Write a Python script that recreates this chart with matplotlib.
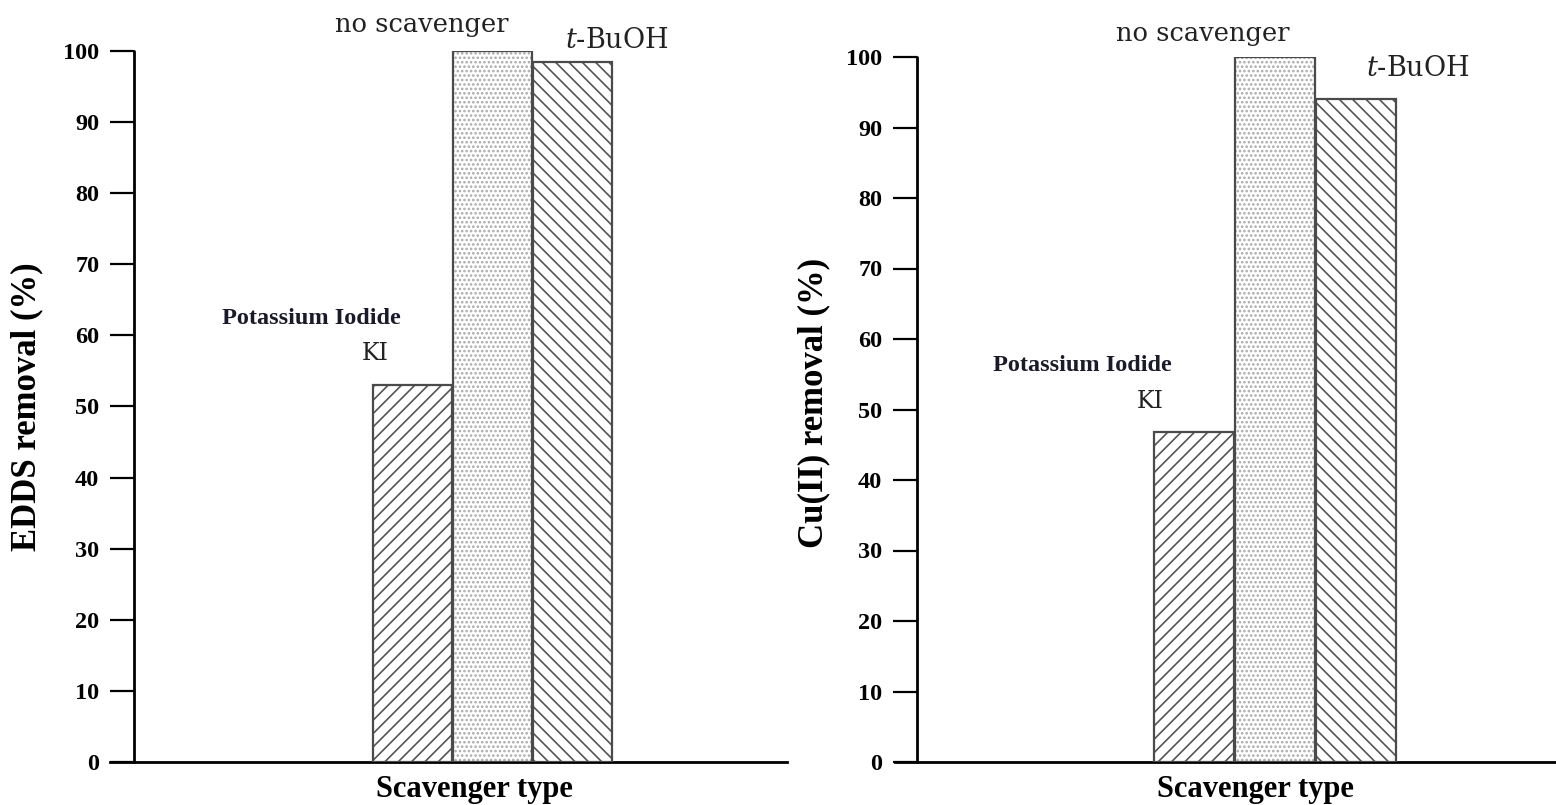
import matplotlib
matplotlib.use("Agg")
import matplotlib.pyplot as plt

# The figure is rendered at 80 dpi so that the hatch patterns come out
# at the fine pitch used in the figure; point sizes are scaled to match.
DPI = 80
S = 100.0 / DPI

plt.rcParams["font.family"] = ["Liberation Serif", "DejaVu Serif"]
plt.rcParams["mathtext.fontset"] = "dejavuserif"
plt.rcParams["hatch.linewidth"] = 1.2 * S

# Scavenger experiments
scavengers = ["KI", "no scavenger", "t-BuOH"]
edds_removal = [53.0, 100.0, 98.5]
cu_removal = [46.8, 100.0, 94.0]
yticks = [0, 10, 20, 30, 40, 50, 60, 70, 80, 90, 100]

hatches = ["//", "...", "\\\\"]
hatch_colors = ["#555555", "#a8a8a8", "#555555"]

W, H = 1556.0, 805.0
fig = plt.figure(figsize=(W / DPI, H / DPI), dpi=DPI)

ax_left = fig.add_axes([110 / W, (H - 762) / H, 677 / W, 711 / H])
ax_right = fig.add_axes([895 / W, (H - 762) / H, 661 / W, 705 / H])


def draw_panel(ax, values, ylabel, spine_frac, xlim, labels_pos, xlabel_x):
    xs = list(range(len(values)))
    for x, v, h, hc in zip(xs, values, hatches, hatch_colors):
        ax.bar(x, v, width=0.98, color="white", edgecolor=hc, hatch=h,
               linewidth=0, zorder=2)
        ax.bar(x, v, width=0.98, fill=False, edgecolor="#4a4a4a",
               linewidth=1.6 * S, zorder=3)
    ax.set_xlim(*xlim)
    ax.set_ylim(0, 100)
    ax.set_yticks(yticks)
    ax.set_xticks([])
    for s in ("top", "right"):
        ax.spines[s].set_visible(False)
    ax.spines["left"].set_position(("axes", spine_frac))
    ax.spines["left"].set_linewidth(2.0 * S)
    ax.spines["bottom"].set_linewidth(2.0 * S)
    ax.spines["left"].set_capstyle("round")
    ax.tick_params(axis="y", direction="out", length=17 * S, width=1.6 * S,
                   pad=8 * S, labelsize=17.5 * S)
    for t in ax.get_yticklabels():
        t.set_fontweight("bold")
    ax.set_ylabel(ylabel, fontsize=25 * S, fontweight="bold")
    ax.set_xlabel("Scavenger type", fontsize=22 * S, fontweight="bold")
    ax.xaxis.set_label_coords(xlabel_x, -0.039)
    ax.xaxis.label.set_va("center")

    (ns, tb, pk, ki) = labels_pos
    ax.text(ns[0], ns[1], "no scavenger", fontsize=18.5 * S, ha="center",
            va="center", family="DejaVu Serif", color="#222222")
    ax.text(tb[0], tb[1], "$t$-BuOH", fontsize=19.5 * S, ha="center",
            va="center", family="DejaVu Serif", color="#222222")
    ax.text(pk[0], pk[1], "Potassium Iodide", fontsize=17.5 * S, ha="center",
            va="center", fontweight="bold", color="#1a1a2a")
    ax.text(ki[0], ki[1], "KI", fontsize=17 * S, ha="center", va="center",
            family="DejaVu Serif", color="#222222")


draw_panel(ax_left, edds_removal, "EDDS removal (%)", 24 / 677,
           (-3.78, 4.68),
           ((0.11, 103.7), (2.56, 101.5), (-1.26, 62.4), (-0.47, 57.5)),
           0.539)
ax_left.yaxis.set_label_coords(-0.099, 0.5)

draw_panel(ax_right, cu_removal, "Cu(II) removal (%)", 22 / 661,
           (-3.69, 4.47),
           ((0.11, 103.4), (2.77, 98.4), (-1.38, 56.2), (-0.54, 51.1)),
           0.545)
ax_right.yaxis.set_label_coords(-0.098, 0.51)

fig.savefig("out.png", dpi=DPI)
